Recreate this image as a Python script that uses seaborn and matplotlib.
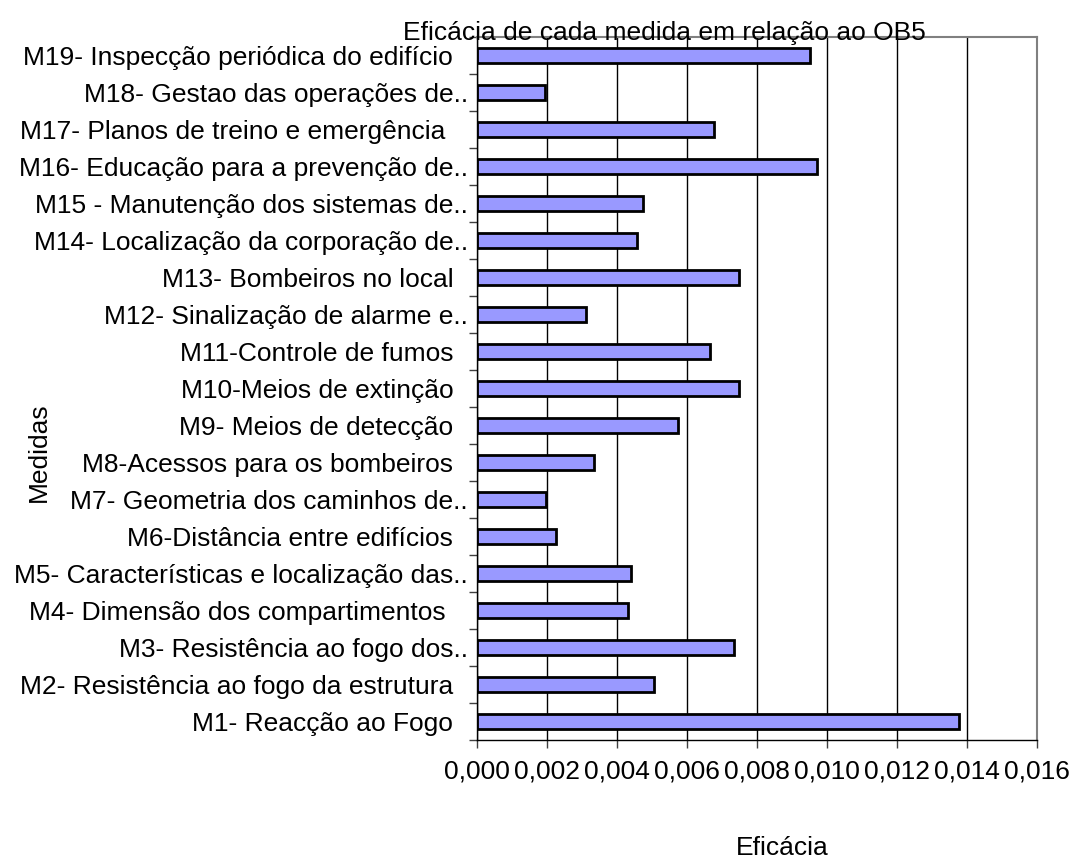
import matplotlib
matplotlib.use("Agg")
import matplotlib.pyplot as plt
import seaborn as sns
import pandas as pd
from matplotlib.ticker import FuncFormatter, FixedLocator

medidas = [
    "M19- Inspecção periódica do edifício  ",
    "M18- Gestao das operações de..",
    "M17- Planos de treino e emergência   ",
    "M16- Educação para a prevenção de..",
    "M15 - Manutenção dos sistemas de..",
    "M14- Localização da corporação de..",
    "M13- Bombeiros no local  ",
    "M12- Sinalização de alarme e..",
    "M11-Controle de fumos  ",
    "M10-Meios de extinção  ",
    "M9- Meios de detecção  ",
    "M8-Acessos para os bombeiros  ",
    "M7- Geometria dos caminhos de..",
    "M6-Distância entre edifícios  ",
    "M5- Características e localização das..",
    "M4- Dimensão dos compartimentos   ",
    "M3- Resistência ao fogo dos..",
    "M2- Resistência ao fogo da estrutura  ",
    "M1- Reacção ao Fogo  ",
]
eficacia = [0.00952, 0.00195, 0.00676, 0.00971, 0.00474, 0.00457, 0.00749,
            0.00310, 0.00665, 0.00750, 0.00574, 0.00335, 0.00196, 0.00227,
            0.00441, 0.00432, 0.00735, 0.00505, 0.01376]
x_ticks = [0.000, 0.002, 0.004, 0.006, 0.008, 0.010, 0.012, 0.014, 0.016]

df = pd.DataFrame({"Medidas": medidas, "Eficacia": eficacia})

sns.set_style("white")
plt.rcParams["font.family"] = ["Liberation Sans", "DejaVu Sans"]
plt.rcParams["text.color"] = "black"
plt.rcParams["xtick.color"] = "black"
plt.rcParams["ytick.color"] = "black"
fs = 19

fig = plt.figure(figsize=(10.73, 8.58), dpi=100)
ax = fig.add_axes([477 / 1073, 1 - 740 / 858, (1037 - 477) / 1073, (740 - 37) / 858])

sns.barplot(data=df, x="Eficacia", y="Medidas", order=medidas, color="#9999FF",
            saturation=1, width=0.42, edgecolor="black", linewidth=2, ax=ax)

ax.set_xlim(0, 0.016)
ax.set_ylim(18.5, -0.5)
ax.set_axisbelow(True)
ax.xaxis.grid(True, color="black", linewidth=1)
ax.yaxis.grid(False)

ax.xaxis.set_major_locator(FixedLocator(x_ticks))
ax.xaxis.set_major_formatter(FuncFormatter(lambda v, p: f"{v:.3f}".replace(".", ",")))
ax.tick_params(axis="x", which="major", bottom=True, length=6, width=1, color="#404040",
               pad=8, labelsize=fs, labelcolor="black")
ax.tick_params(axis="y", which="major", left=False, length=0, pad=6.5, labelsize=fs,
               labelcolor="black")
ax.yaxis.set_minor_locator(FixedLocator([i - 0.5 for i in range(len(medidas) + 1)]))
ax.tick_params(axis="y", which="minor", left=True, length=6, width=1, color="#404040")

for s in ["left", "bottom"]:
    ax.spines[s].set_color("black")
    ax.spines[s].set_linewidth(1)
for s in ["top", "right"]:
    ax.spines[s].set_color("#808080")
    ax.spines[s].set_linewidth(1.5)

ax.set_xlabel("")
ax.set_ylabel("")
fig.text(782 / 1073, 1 - 848 / 858, "Eficácia", ha="center", va="center", fontsize=fs)
fig.text(39 / 1073, 1 - 452 / 858, "Medidas", ha="center", va="center", rotation=90, fontsize=fs)
fig.text(664 / 1073, 1 - 40 / 858, "Eficácia de cada medida em relação ao OB5",
         ha="center", va="baseline", fontsize=fs)

fig.savefig("out.png", dpi=100, facecolor="white")
